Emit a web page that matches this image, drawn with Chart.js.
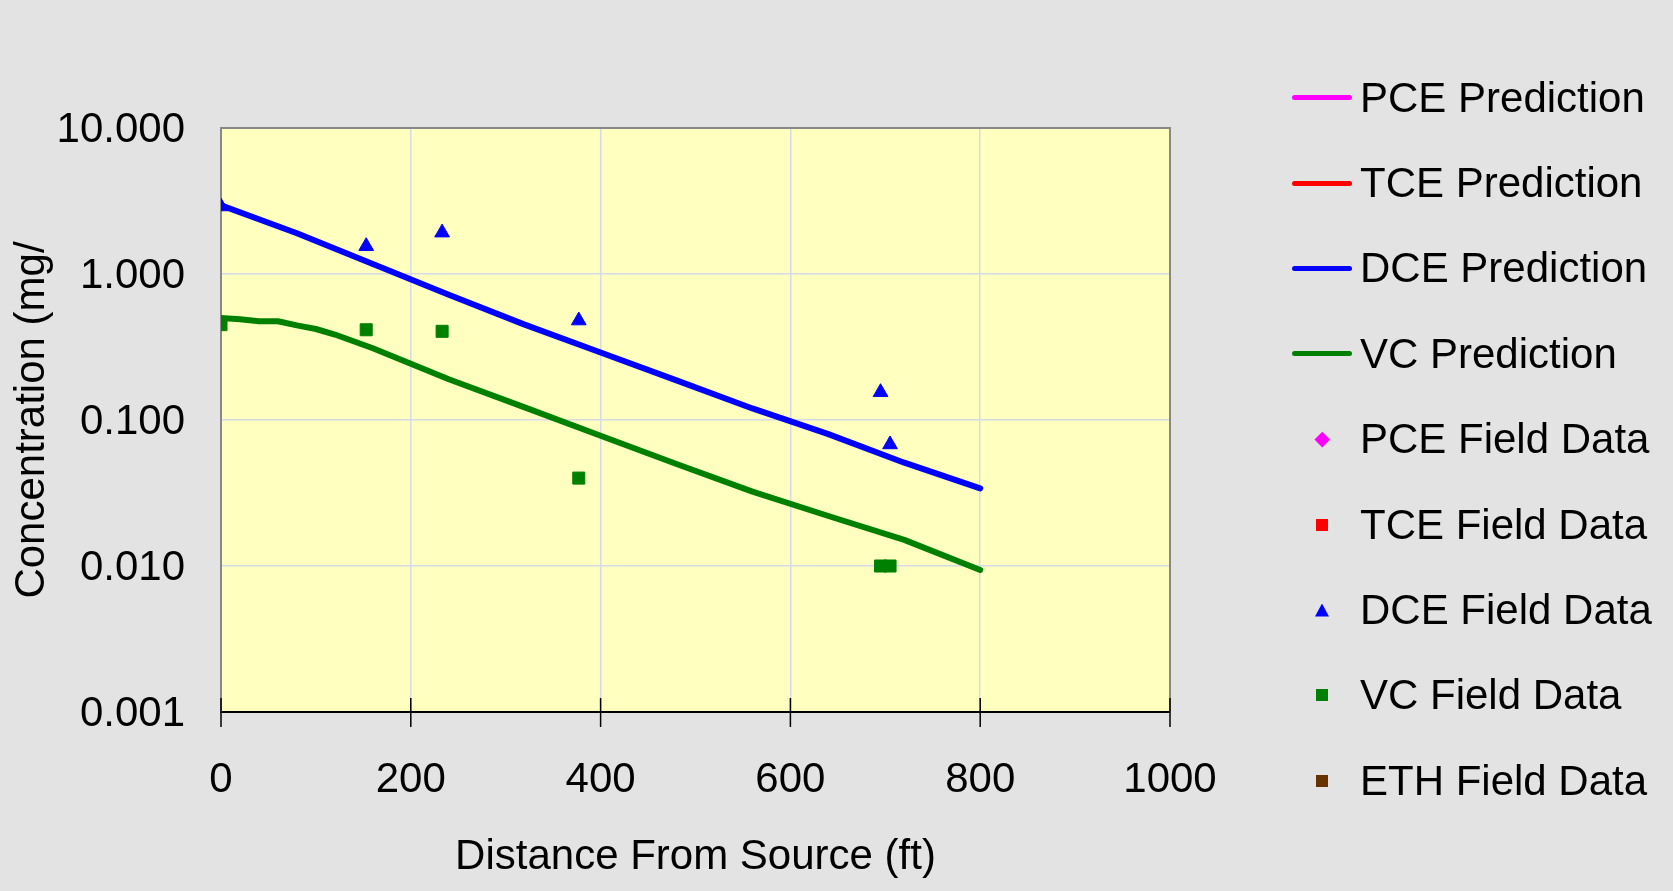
<!DOCTYPE html>
<html>
<head>
<meta charset="utf-8">
<title>Distance From Source</title>
<script src="https://cdn.jsdelivr.net/npm/chart.js@4.4.1/dist/chart.umd.min.js"></script>
<style>
    body { margin: 0; background: #e3e3e3; }
    .wrap { position: relative; width: 1673px; height: 891px; background: #e3e3e3; }
    #legend { position: absolute; left: 1292px; top: 55px; margin: 0; padding: 0; list-style: none;
              font-family: 'Liberation Sans', Arial, sans-serif; font-size: 42px; color: #000; }
    #legend li { height: 85.4px; display: flex; align-items: center; }
    #legend .key { width: 60px; display: flex; justify-content: center; align-items: center; }
    #legend .txt { margin-left: 8px; white-space: nowrap; }
    .k-line { width: 60px; height: 5px; border-radius: 3px; }
    .k-rect { width: 12px; height: 12px; }
    .k-triangle { width: 14px; height: 13px; clip-path: polygon(50% 0, 100% 100%, 0 100%); }
    .k-rectRot { width: 10.5px; height: 10.5px; transform: rotate(45deg); }
</style>
</head>
<body>
<div class="wrap">
    <canvas id="concChart" width="1673" height="891"></canvas>
    <ul id="legend"></ul>
</div>
<script>
// model output (ft, mg/l)
const dcePredDist = [0, 80, 160, 240, 320, 400, 480, 560, 640, 720, 800];
const dcePred = [2.95, 1.90, 1.17, 0.72, 0.45, 0.29, 0.187, 0.12, 0.080, 0.051, 0.034];
const vcPredDist = [0, 20, 40, 60, 80, 100, 120, 160, 240, 320, 400, 480, 560, 640, 720, 800];
const vcPred = [0.50, 0.49, 0.475, 0.475, 0.445, 0.42, 0.385, 0.31, 0.19, 0.122, 0.078, 0.050, 0.0323, 0.022, 0.0151, 0.0094];

// monitoring wells
const fieldDist = [0, 153, 233, 377, 695, 705];
const dceField = [2.9, 1.55, 1.92, 0.48, 0.155, 0.068];
const vcField = [0.45, 0.415, 0.405, 0.040, 0.010, 0.010];

const xTicks = [0, 200, 400, 600, 800, 1000];
const yTicks = [0.001, 0.01, 0.1, 1, 10];

const gridColor = '#d6d9e6';

function pairs(xs, ys) {
    return xs.map((x, i) => ({ x: x, y: ys[i] }));
}

function predLine(label, color, data) {
    return {
        label: label, data: data, showLine: true, pointRadius: 0,
        borderColor: color, backgroundColor: color, borderWidth: 6,
        borderCapStyle: 'round', borderJoinStyle: 'round', order: 1
    };
}

function fieldPoints(label, color, style, data) {
    return {
        label: label, data: data, showLine: false, pointStyle: style, pointRadius: 8.5,
        pointHoverRadius: 8.5, borderColor: color, backgroundColor: color, borderWidth: 1, order: 0
    };
}

// plot frame: yellow area, grey top/right edges, black ticks across the x axis
const plotFrame = {
    id: 'plotFrame',
    beforeDraw(chart) {
        const { ctx, chartArea: a } = chart;
        ctx.save();
        ctx.fillStyle = '#ffffc0';
        ctx.fillRect(a.left, a.top, a.right - a.left, a.bottom - a.top);
        ctx.restore();
    },
    afterDraw(chart) {
        const { ctx, chartArea: a } = chart;
        const xs = chart.scales.x;
        ctx.save();
        ctx.strokeStyle = '#888888';
        ctx.lineWidth = 2;
        ctx.beginPath();
        ctx.moveTo(a.left, a.top);
        ctx.lineTo(a.right, a.top);
        ctx.lineTo(a.right, a.bottom);
        ctx.stroke();
        ctx.strokeStyle = '#000';
        ctx.lineWidth = 1.5;
        xs.ticks.forEach(t => {
            const px = xs.getPixelForValue(t.value);
            ctx.beginPath();
            ctx.moveTo(px, a.bottom - 14);
            ctx.lineTo(px, a.bottom + 15);
            ctx.stroke();
        });
        ctx.restore();
    }
};

Chart.defaults.font.family = "'Liberation Sans', Arial, sans-serif";
Chart.defaults.font.size = 42;
Chart.defaults.color = '#000';

const chart = new Chart(document.getElementById('concChart').getContext('2d'), {
    type: 'scatter',
    data: {
        datasets: [
            predLine('PCE Prediction', '#ff00ff', []),
            predLine('TCE Prediction', '#ff0000', []),
            predLine('DCE Prediction', '#0000ff', pairs(dcePredDist, dcePred)),
            predLine('VC Prediction', '#008000', pairs(vcPredDist, vcPred)),
            fieldPoints('PCE Field Data', '#ff00ff', 'rectRot', []),
            fieldPoints('TCE Field Data', '#ff0000', 'rect', []),
            fieldPoints('DCE Field Data', '#0000ff', 'triangle', pairs(fieldDist, dceField)),
            fieldPoints('VC Field Data', '#008000', 'rect', pairs(fieldDist, vcField)),
            fieldPoints('ETH Field Data', '#663300', 'rect', [])
        ]
    },
    options: {
        responsive: false,
        animation: false,
        layout: { padding: { top: 128, right: 503, bottom: 0, left: 0 } },
        plugins: {
            legend: { display: false },
            tooltip: { enabled: false }
        },
        scales: {
            x: {
                type: 'linear',
                min: 0,
                max: 1000,
                afterBuildTicks: scale => { scale.ticks = xTicks.map(v => ({ value: v })); },
                afterFit: scale => { scale.height = 179; },
                ticks: { padding: 43, maxRotation: 0, callback: v => String(v) },
                grid: {
                    drawTicks: false,
                    lineWidth: 1.5,
                    color: c => (c.tick && (c.tick.value === 0 || c.tick.value === 1000)) ? 'rgba(0,0,0,0)' : gridColor
                },
                border: { color: '#000', width: 2 },
                title: { display: true, text: 'Distance From Source (ft)', padding: { top: 0, bottom: 8 } }
            },
            y: {
                type: 'logarithmic',
                min: 0.001,
                max: 10,
                afterBuildTicks: scale => { scale.ticks = yTicks.map(v => ({ value: v })); },
                afterFit: scale => { scale.width = 221; },
                ticks: { padding: 36, labelOffset: 2, callback: v => Number(v).toFixed(3) },
                grid: {
                    drawTicks: false,
                    lineWidth: 1.5,
                    color: c => (c.tick && (c.tick.value === 0.001 || c.tick.value === 10)) ? 'rgba(0,0,0,0)' : gridColor
                },
                border: { color: '#888888', width: 2 },
                title: { display: true, text: 'Concentration (mg/', padding: { top: 7, bottom: 0 } }
            }
        }
    },
    plugins: [plotFrame]
});

// legend built from the chart's datasets
const legendEl = document.getElementById('legend');
chart.data.datasets.forEach(ds => {
    const li = document.createElement('li');
    const key = document.createElement('span');
    key.className = 'key';
    const mark = document.createElement('span');
    mark.className = ds.showLine ? 'k-line' : 'k-' + ds.pointStyle;
    mark.style.background = ds.borderColor;
    key.appendChild(mark);
    const txt = document.createElement('span');
    txt.className = 'txt';
    txt.textContent = ds.label;
    li.appendChild(key);
    li.appendChild(txt);
    legendEl.appendChild(li);
});
</script>
</body>
</html>
